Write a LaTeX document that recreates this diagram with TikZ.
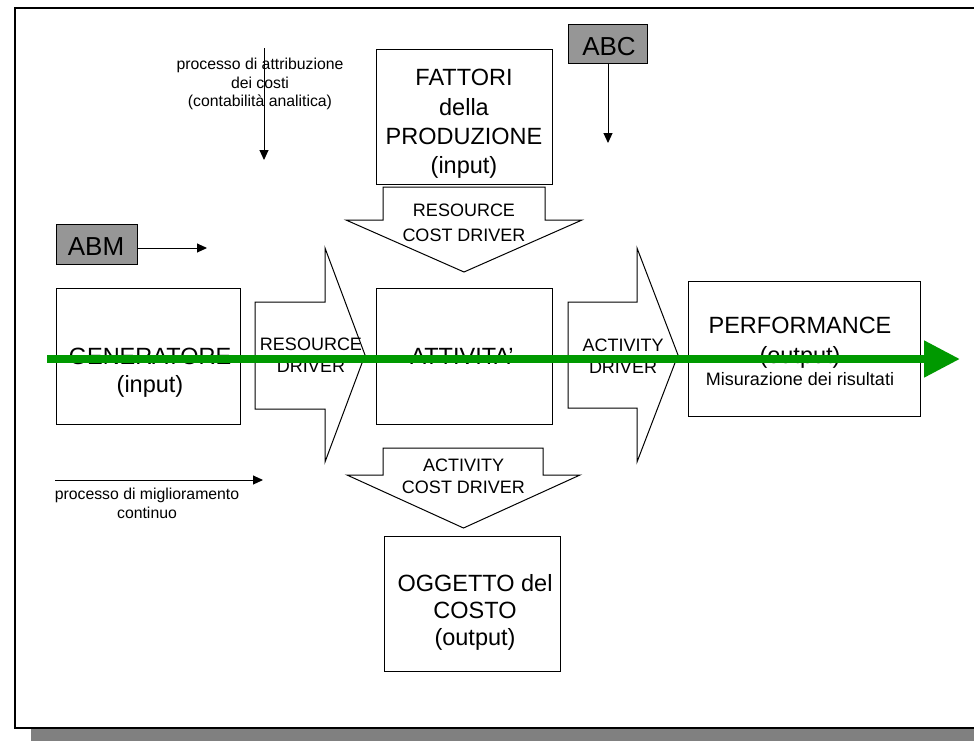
\documentclass[tikz,border=0pt]{standalone}
\usepackage{fontspec}
\setmainfont{Liberation Sans}
\usetikzlibrary{arrows.meta}
\definecolor{flowgreen}{RGB}{0,153,0}
\definecolor{tagfill}{RGB}{150,150,150}
\definecolor{shadowgray}{RGB}{128,128,128}

\begin{document}
\begin{tikzpicture}[x=1pt,y=-1pt,
  box/.style={draw=black,line width=1pt,fill=white,inner sep=0pt},
  tag/.style={draw=black,line width=1pt,fill=tagfill,inner sep=0pt},
  blockarrow/.style={draw=black,line width=1pt,fill=white,line join=miter},
  % multi-line texts are placed by the baseline of their last line
  txt/.style={inner sep=0pt,align=center,anchor=base},
  thinarrow/.style={draw=black,line width=1pt,-{Triangle[length=10pt,width=9pt]}},
  flow/.style={draw=flowgreen,line width=8pt,-{Triangle[length=36pt,width=35pt]}},
]
\useasboundingbox (0,0) rectangle (974,740);
\clip (0,0) rectangle (974,740);

% sheet with its drop shadow
\fill[shadowgray] (31,728.5) rectangle (1000,760);
\draw[line width=2pt,fill=white] (15,8) rectangle (1000,727.5);

% process boxes
\node[box,minimum width=176pt,minimum height=135pt] (fattori) at (464,116.5) {};
\node[box,minimum width=184pt,minimum height=136pt] (generatore) at (148,356) {};
\node[box,minimum width=176pt,minimum height=136pt] (attivita) at (464,356) {};
\node[box,minimum width=232pt,minimum height=135pt] (performance) at (804,348.5) {};
\node[box,minimum width=176pt,minimum height=135pt] (oggetto) at (472,603.5) {};

% method tags
\node[tag,minimum width=79pt,minimum height=39pt] (abc) at (607.5,43.5) {};
\node[tag,minimum width=81pt,minimum height=40pt] (abm) at (96.5,244) {};

% block arrows
\draw[blockarrow] (255,302) -- (325,302) -- (325,248) -- (365,355)
  -- (325,462) -- (325,409) -- (255,409) -- cycle;
\draw[blockarrow] (568,302) -- (637,302) -- (637,248) -- (678,355)
  -- (637,462) -- (637,408) -- (568,408) -- cycle;
\draw[blockarrow] (383,187) -- (545,187) -- (545,220) -- (582,220)
  -- (464,272) -- (346,220) -- (383,220) -- cycle;
\draw[blockarrow] (383,448) -- (543,448) -- (543,475) -- (580,475)
  -- (463.5,528) -- (347,475) -- (383,475) -- cycle;

% texts
\node[txt,font=\fontsize{15.8}{18.7}\selectfont] (attrib) at (260,106.7)
  {processo di attribuzione\\dei costi\\(contabilità analitica)};
\node[txt,font=\fontsize{23.5}{29.4}\selectfont] (fattoritxt) at (464,173.9)
  {FATTORI\\della\\PRODUZIONE\\(input)};
\node[txt,font=\fontsize{26}{30}\selectfont] (abctxt) at (609,55) {ABC};
\node[txt,font=\fontsize{26}{30}\selectfont] (abmtxt) at (96,255) {ABM};
\node[txt,font=\fontsize{18}{25}\selectfont] (rcdtxt) at (464,241)
  {RESOURCE\\COST DRIVER};
\node[txt,font=\fontsize{23.5}{28.5}\selectfont] (gentxt) at (150,392.5)
  {GENERATORE\\(input)};
\node[txt,font=\fontsize{18}{22}\selectfont] (rdtxt) at (311,372.7)
  {RESOURCE\\DRIVER};
\node[txt,font=\fontsize{23.5}{29}\selectfont] (atttxt) at (462,364.5)
  {ATTIVITA’};
\node[txt,font=\fontsize{18}{21.5}\selectfont] (adtxt) at (623,373)
  {ACTIVITY\\DRIVER};
\node[txt,font=\fontsize{23.5}{30}\selectfont] (perftxt) at (800,363.3)
  {PERFORMANCE\\(output)};
\node[txt,font=\fontsize{18}{22}\selectfont] (perfnote) at (800,385.7)
  {Misurazione dei risultati};
\node[txt,font=\fontsize{18}{21.7}\selectfont] (acdtxt) at (463.5,493.4)
  {ACTIVITY\\COST DRIVER};
\node[txt,font=\fontsize{23.5}{26.7}\selectfont] (oggtxt) at (475,645.1)
  {OGGETTO del\\COSTO\\(output)};
\node[txt,font=\fontsize{15.8}{19}\selectfont] (miglior) at (147,518.3)
  {processo di miglioramento\\continuo};

% direction arrows
\coordinate (attribtop) at (264,48);
\coordinate (attribend) at (264,160);
\coordinate (abcend) at (608,143);
\coordinate (abmend) at (207,248);
\coordinate (migstart) at (55,480);
\coordinate (migend) at (263,480);
\draw[thinarrow] (attribtop) -- (attribend);
\draw[thinarrow] (abc.south -| abcend) -- (abcend);
\draw[thinarrow] (abm.east |- abmend) -- (abmend);
\draw[thinarrow] (migstart) -- (migend);

% main flow
\coordinate (flowstart) at (47,359);
\coordinate (flowend) at (960,359);
\draw[flow] (flowstart) -- (flowend);
\end{tikzpicture}
\end{document}
